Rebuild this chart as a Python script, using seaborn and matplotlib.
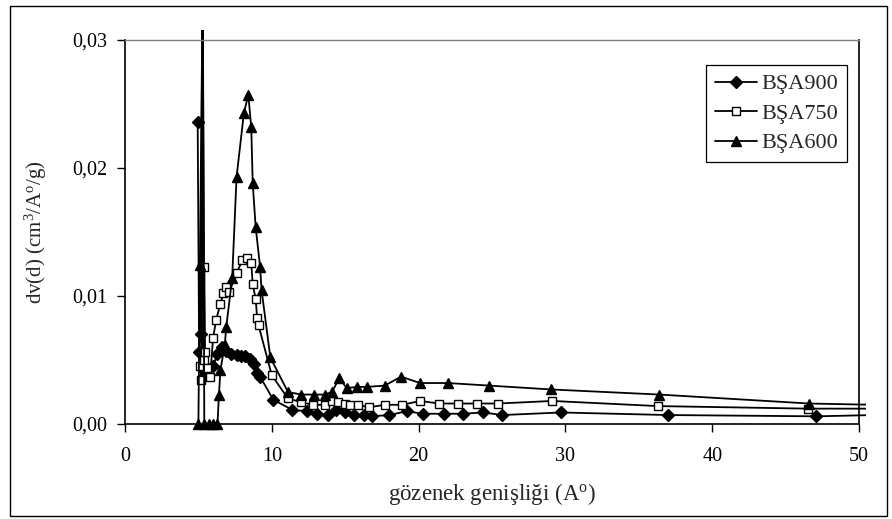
import numpy as np
import pandas as pd
import matplotlib
matplotlib.use("Agg")
import matplotlib.pyplot as plt
from matplotlib.patches import Rectangle
from matplotlib.lines import Line2D
from matplotlib.ticker import FuncFormatter
import seaborn as sns

# Pore size distribution, dv(d) in cm3/A/g against pore width in Angstrom
bsa900_x = [4.95, 5.05, 5.15, 5.28, 5.42, 6.0, 6.3, 6.6, 6.9, 7.2, 7.6, 7.9, 8.2, 8.5, 8.8,
            9.0, 9.2, 10.1, 11.4, 12.4, 13.1, 13.8, 14.4, 15.0, 15.6, 16.3, 16.8, 18.0,
            19.2, 20.3, 21.7, 23.0, 24.4, 25.7, 29.7, 37.0, 47.1, 51.0]
bsa900_y = [0.0236, 0.0056, 0.0070, 0.0350, 0.0038, 0.0045, 0.0055, 0.0060, 0.0057, 0.0055,
            0.0054, 0.0053, 0.0053, 0.0051, 0.0047, 0.0040, 0.0037, 0.0019, 0.0011, 0.0010,
            0.0008, 0.0007, 0.0011, 0.0009, 0.0007, 0.0007, 0.0006, 0.0007, 0.0010, 0.0008,
            0.0008, 0.0008, 0.0009, 0.0007, 0.0009, 0.0007, 0.0006, 0.0007]

bsa750_x = [5.1, 5.2, 5.3, 5.35, 5.4, 5.45, 5.6, 5.8, 6.0, 6.2, 6.5, 6.7, 6.9, 7.1, 7.6,
            8.0, 8.3, 8.6, 8.7, 8.9, 9.0, 9.1, 10.0, 11.1, 12.0, 12.8, 13.6, 14.1, 14.5,
            15.0, 15.3, 15.9, 16.6, 17.7, 18.9, 20.1, 21.4, 22.7, 24.0, 25.4, 29.1, 36.3,
            46.5, 51.0]
bsa750_y = [0.0045, 0.0034, 0.0350, 0.0050, 0.0123, 0.0056, 0.0044, 0.0037, 0.0067, 0.0081,
            0.0094, 0.0102, 0.0107, 0.0103, 0.0118, 0.0128, 0.0130, 0.0126, 0.0109, 0.0098,
            0.0083, 0.0077, 0.0038, 0.0020, 0.0017, 0.0015, 0.0015, 0.0018, 0.0017, 0.0016,
            0.0015, 0.0015, 0.0013, 0.0015, 0.0015, 0.0018, 0.0016, 0.0016, 0.0016, 0.0016,
            0.0018, 0.0014, 0.0012, 0.0012]

bsa600_x = [5.0, 5.1, 5.3, 5.4, 5.7, 6.0, 6.3, 6.4, 6.5, 6.8, 6.9, 7.3, 7.6, 8.1, 8.4,
            8.6, 8.7, 8.9, 9.2, 9.3, 9.9, 11.1, 12.0, 12.9, 13.6, 14.1, 14.6, 15.1, 15.8,
            16.5, 17.7, 18.8, 20.1, 22.0, 24.8, 29.0, 36.4, 46.6, 51.0]
bsa600_y = [0.0000, 0.0124, 0.0350, 0.0000, 0.0000, 0.0000, 0.0000, 0.0023, 0.0042, 0.0062,
            0.0076, 0.0114, 0.0193, 0.0243, 0.0257, 0.0232, 0.0188, 0.0154, 0.0123, 0.0105,
            0.0052, 0.0025, 0.0023, 0.0023, 0.0023, 0.0025, 0.0036, 0.0028, 0.0029, 0.0029,
            0.0030, 0.0037, 0.0032, 0.0032, 0.0030, 0.0027, 0.0023, 0.0016, 0.0015]

series_names = ["BŞA900", "BŞA750", "BŞA600"]
x_ticks = [0, 10, 20, 30, 40, 50]
y_ticks = [0.00, 0.01, 0.02, 0.03]

frames = []
for name, xs, ys in zip(series_names,
                        [bsa900_x, bsa750_x, bsa600_x],
                        [bsa900_y, bsa750_y, bsa600_y]):
    frames.append(pd.DataFrame({"width": xs, "dv": ys, "sample": name}))
df = pd.concat(frames, ignore_index=True)

sns.set_style("white")
plt.rcParams["font.family"] = ["Liberation Serif", "DejaVu Serif"]
plt.rcParams["mathtext.fontset"] = "custom"
plt.rcParams["mathtext.rm"] = "Liberation Serif"
plt.rcParams["mathtext.it"] = "Liberation Serif:italic"

W, H = 892, 519
fig = plt.figure(figsize=(W / 100, H / 100), dpi=100)
ax = fig.add_axes([125 / W, 1 - 424 / H, (859 - 125) / W, (424 - 40) / H])

styles = {
    "BŞA900": dict(marker="D", ms=6.0, mfc="black", mec="black"),
    "BŞA750": dict(marker="s", ms=6.2, mfc="white", mec="black"),
    "BŞA600": dict(marker="^", ms=7.5, mfc="black", mec="black"),
}

# slightly enlarged clip box so the narrow spike and the tails run just past the frame
clip_box = Rectangle((0, -0.02), 1.0095, 1.045, transform=ax.transAxes, visible=False)
ax.add_patch(clip_box)

for name in series_names:
    sub = df[df["sample"] == name]
    st = styles[name]
    sns.lineplot(data=sub, x="width", y="dv", sort=False, estimator=None, ax=ax,
                 color="black", lw=1.3, marker=st["marker"], markersize=st["ms"],
                 markerfacecolor=st["mfc"], markeredgecolor=st["mec"], markeredgewidth=1.0,
                 legend=False)

for ln in ax.get_lines():
    ln.set_clip_path(clip_box)

ax.set_xlim(0, 50)
ax.set_ylim(0, 0.03)
ax.set_xticks(x_ticks)
ax.set_yticks(y_ticks)
ax.yaxis.set_major_formatter(FuncFormatter(lambda v, p: f"{v:.2f}".replace(".", ",")))
ax.xaxis.set_major_formatter(FuncFormatter(lambda v, p: f"{v:.0f}"))

ax.tick_params(axis="both", which="major", direction="out", length=5.5, width=1.0,
               color="black", labelsize=14.5, labelcolor="black")
ax.tick_params(axis="x", pad=11)
ax.tick_params(axis="y", pad=7)
ax.yaxis.set_ticks_position("left")
ax.xaxis.set_ticks_position("bottom")

for side in ["left", "bottom", "right"]:
    ax.spines[side].set_color("black")
    ax.spines[side].set_linewidth(1.2)
ax.spines["top"].set_color("#7f7f7f")
ax.spines["top"].set_linewidth(1.0)

ax.set_xlabel("gözenek genişliği (A$^{\\mathrm{o}}$)", fontsize=16.5, labelpad=11)
ax.set_ylabel("dv(d) (cm$^{3}$/A$^{\\mathrm{o}}$/g)", fontsize=15, labelpad=17)

handles = [Line2D([0], [0], color="black", lw=1.3, marker=styles[n]["marker"],
                  markersize=styles[n]["ms"], markerfacecolor=styles[n]["mfc"],
                  markeredgecolor="black", markeredgewidth=1.0) for n in series_names]
leg = fig.legend(handles, series_names, loc="upper right",
                 bbox_to_anchor=(847 / W, 1 - 65 / H), frameon=True, fancybox=False,
                 edgecolor="black", framealpha=1, fontsize=16, numpoints=1,
                 handlelength=1.9, handletextpad=0.2, labelspacing=0.4,
                 borderpad=0.4, borderaxespad=0)
leg.get_frame().set_linewidth(0.9)

fig.patches.append(Rectangle((10 / W, 1 - 516 / H), (887 - 10) / W, (516 - 6) / H,
                             transform=fig.transFigure, fill=False, ec="black", lw=1.0))

fig.savefig("out.png", dpi=100, facecolor="white")
